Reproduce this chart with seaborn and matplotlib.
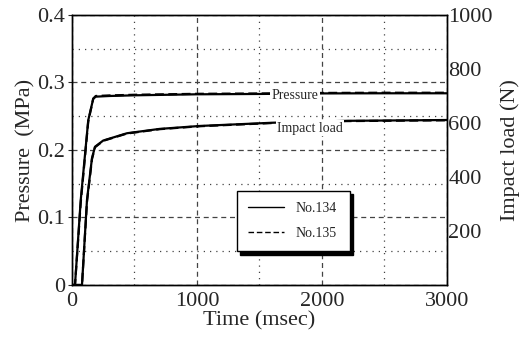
import numpy as np
import pandas as pd
import matplotlib
matplotlib.use("Agg")
import matplotlib.pyplot as plt
from matplotlib.ticker import MultipleLocator
import seaborn as sns

# time axis (msec) for the sampled points
time_ms = [0, 24, 70, 130, 170, 190, 300, 500, 1000, 1500, 2000, 2500, 3000]
# pressure (MPa), test No.134 and No.135
pressure_134 = [0, 0, 0.126, 0.244, 0.276, 0.279, 0.2800, 0.2810, 0.2825, 0.2830, 0.2838, 0.2840, 0.2840]
pressure_135 = [0, 0, 0.122, 0.242, 0.276, 0.280, 0.2808, 0.2818, 0.2832, 0.2837, 0.2845, 0.2848, 0.2848]

time_load = [0, 80, 120, 160, 184, 250, 440, 700, 1024, 1610, 2200, 3000]
# impact load (N)
load_134 = [0, 0, 315, 470, 512, 535, 562, 578, 589, 601, 608, 611]
load_135 = [0, 0, 308, 466, 510, 534, 561, 577, 588, 600, 607, 610]

tests = ["No.134", "No.135"]

p_df = pd.concat([
    pd.DataFrame({"time": time_ms, "value": pressure_134, "test": tests[0]}),
    pd.DataFrame({"time": time_ms, "value": pressure_135, "test": tests[1]}),
])
l_df = pd.concat([
    pd.DataFrame({"time": time_load, "value": load_134, "test": tests[0]}),
    pd.DataFrame({"time": time_load, "value": load_135, "test": tests[1]}),
])

sns.set_style("white")
plt.rcParams["font.family"] = ["Liberation Serif", "DejaVu Serif"]

fig = plt.figure(figsize=(5.27, 3.42), dpi=100)
ax = fig.add_axes([0.1366, 0.1667, 0.7116, 0.7895])
ax2 = ax.twinx()

dashes = {tests[0]: "", tests[1]: (4, 2)}
sns.lineplot(data=p_df, x="time", y="value", style="test", dashes=dashes,
             color="black", linewidth=1.6, ax=ax, estimator=None, sort=False)
sns.lineplot(data=l_df, x="time", y="value", style="test", dashes=dashes,
             color="black", linewidth=1.6, ax=ax2, estimator=None, sort=False,
             legend=False)

ax.set_xlim(0, 3000)
ax.set_ylim(0, 0.4)
ax2.set_ylim(0, 1000)

ax.xaxis.set_major_locator(MultipleLocator(1000))
ax.xaxis.set_minor_locator(MultipleLocator(500))
ax.yaxis.set_major_locator(MultipleLocator(0.1))
ax.yaxis.set_minor_locator(MultipleLocator(0.05))
ax.set_yticks([0, 0.1, 0.2, 0.3, 0.4])
ax.set_yticklabels(["0", "0.1", "0.2", "0.3", "0.4"])
ax2.set_yticks([200, 400, 600, 800, 1000])

ax.grid(which="major", color="#444444", linestyle=(0, (4, 3)), linewidth=0.9)
ax.grid(which="minor", color="#444444", linestyle=(0, (1, 4)), linewidth=0.9)

ax.tick_params(axis="both", which="major", labelsize=16, length=3, pad=2,
               direction="out")
ax.tick_params(axis="both", which="minor", length=0)
ax2.tick_params(axis="y", labelsize=16, length=0, pad=1)

for a in (ax, ax2):
    for s in a.spines.values():
        s.set_color("black")
        s.set_linewidth(1.0)

ax.set_xlabel("Time (msec)", fontsize=16, labelpad=0)
ax.set_ylabel("Pressure  (MPa)", fontsize=16, labelpad=1)
ax2.set_ylabel("Impact load (N)", fontsize=16, labelpad=5)

ax.text(1784, 0.2805, "Pressure", fontsize=10, ha="center", va="center",
        zorder=5, bbox=dict(facecolor="white", edgecolor="none", pad=1))
ax2.text(1905, 580, "Impact load", fontsize=10, ha="center", va="center",
         zorder=5, bbox=dict(facecolor="white", edgecolor="none", pad=1))

handles, labels = ax.get_legend_handles_labels()
ax.get_legend().remove()
leg = ax2.legend(handles, labels, loc="lower left",
                 bbox_to_anchor=(0.44, 0.125, 0.301, 0.215), mode="expand",
                 fontsize=10, frameon=True, fancybox=False,
                 shadow={"color": "black", "ox": 2.5, "oy": -2.5, "alpha": 1.0},
                 handlelength=2.6, labelspacing=0.9, borderpad=0.8,
                 borderaxespad=0)
leg.get_frame().set_edgecolor("black")
leg.get_frame().set_linewidth(1.0)
for line in leg.get_lines():
    line.set_linewidth(1.0)

fig.savefig("out.png", dpi=100)
